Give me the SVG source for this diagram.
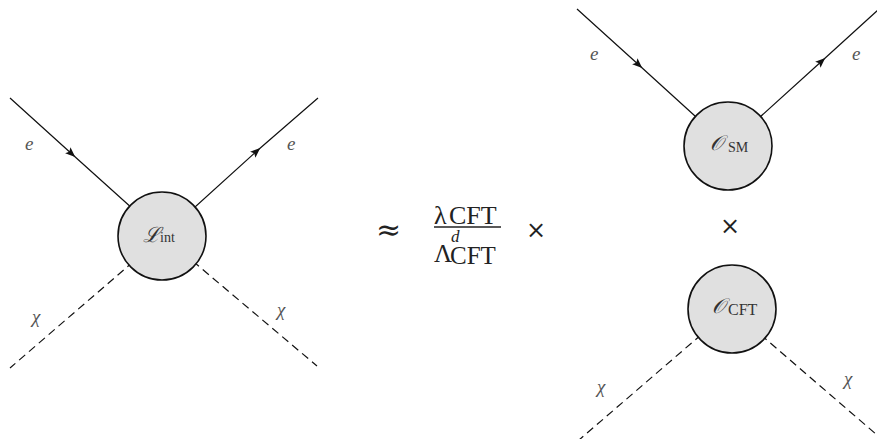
<svg xmlns="http://www.w3.org/2000/svg" width="877" height="439" viewBox="0 0 877 439">
<style>
.ln{stroke:#111;stroke-width:1.2;fill:none}
.ds{stroke:#111;stroke-width:1.2;fill:none;stroke-dasharray:8 5}
.nd{fill:#e0e0e0;stroke:#111;stroke-width:1.6}
.lb{font-family:"Liberation Serif",serif;font-style:italic;fill:#555;font-size:19px}
.mt{font-family:"Liberation Serif",serif;fill:#222}
.op{font-family:"DejaVu Serif",serif;fill:#222}
.cal{font-family:"DejaVu Serif","Liberation Serif",serif;font-style:italic;fill:#333;font-size:21px}
.sub{font-family:"Liberation Serif",serif;fill:#333}
</style>
<defs>
<marker id="arr" viewBox="0 0 10 8" refX="7" refY="4" markerWidth="10" markerHeight="8" markerUnits="userSpaceOnUse" orient="auto">
<path d="M0,0 L10,4 L0,8 L2,4 Z" fill="#111"/>
</marker>
</defs>
<g id="connectors">
<path class="ln" d="M10,98 L73,155 L163,236" marker-mid="url(#arr)"/>
<path class="ln" d="M163,236 L258,150 L318,98" marker-mid="url(#arr)"/>
<path class="ds" d="M163,236 L10,368"/>
<path class="ds" d="M163,236 L317,366"/>
<path class="ln" d="M577,9 L640,66 L728,146" marker-mid="url(#arr)"/>
<path class="ln" d="M728,146 L823,60 L879,9" marker-mid="url(#arr)"/>
<path class="ds" d="M731,309 L579,440"/>
<path class="ds" d="M731,309 L877,435"/>
</g>
<g id="node-lint">
<circle class="nd" cx="162" cy="236" r="44"/>
<text x="143" y="242" class="cal">ℒ</text>
<text x="160" y="242" class="sub" font-size="14">int</text>
</g>
<g id="node-osm">
<circle class="nd" cx="728" cy="146" r="44"/>
<text x="710" y="150" class="cal">𝒪</text>
<text x="728" y="152" class="sub" font-size="14">SM</text>
</g>
<g id="node-ocft">
<circle class="nd" cx="732" cy="309" r="44"/>
<text x="712" y="313" class="cal">𝒪</text>
<text x="728" y="315" class="sub" font-size="16">CFT</text>
</g>
<g id="labels">
<text x="25" y="150" class="lb">e</text>
<text x="287" y="150" class="lb">e</text>
<text x="32" y="323" class="lb" font-size="21">χ</text>
<text x="277" y="316" class="lb" font-size="21">χ</text>
<text x="590" y="60" class="lb">e</text>
<text x="852" y="60" class="lb">e</text>
<text x="597" y="393" class="lb" font-size="21">χ</text>
<text x="844" y="385" class="lb" font-size="21">χ</text>
<text x="720" y="234" class="op" font-size="24">×</text>
</g>
<g id="formula">
<text x="376" y="240" class="op" font-size="30">≈</text>
<text x="434" y="224" class="mt" font-size="26">λ</text>
<text x="449" y="224" class="mt" font-size="26">CFT</text>
<line x1="434" y1="227" x2="501" y2="227" stroke="#222" stroke-width="1.4"/>
<text x="434" y="262" class="mt" font-size="25">Λ</text>
<text x="451" y="242" class="mt" font-size="17" font-style="italic">d</text>
<text x="450" y="264" class="mt" font-size="25">CFT</text>
<text x="526" y="238" class="op" font-size="24">×</text>
</g>
</svg>
